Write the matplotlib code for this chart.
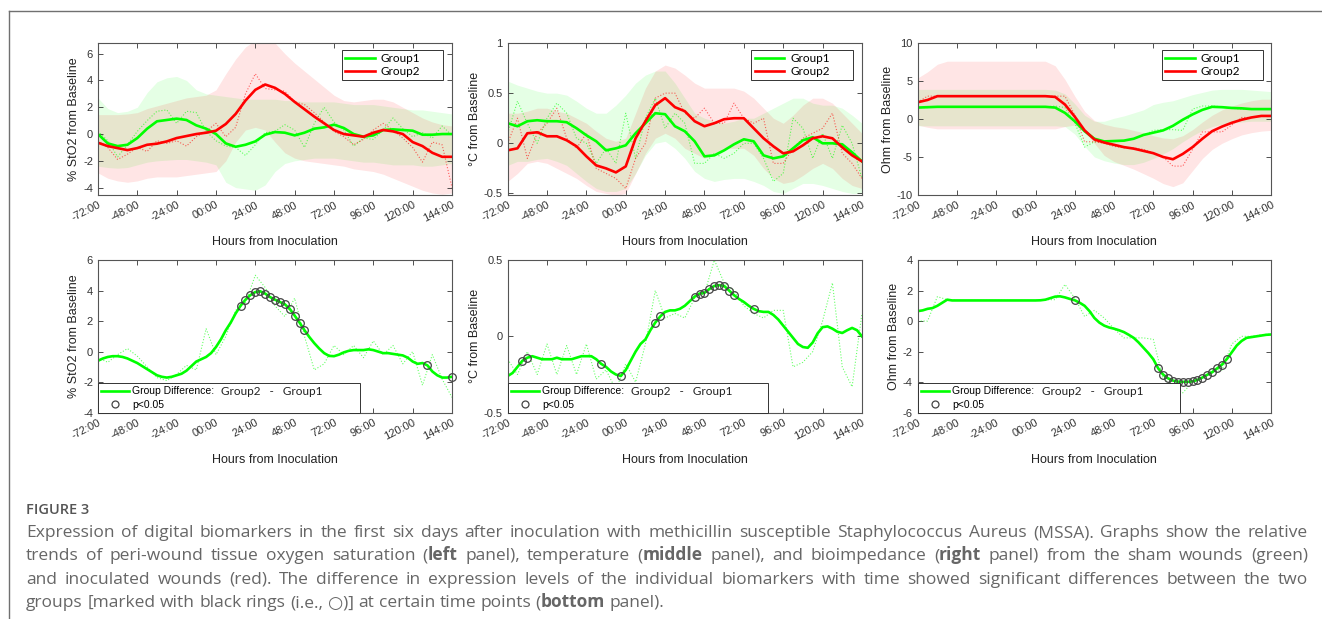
import matplotlib
matplotlib.use('Agg')
import matplotlib.pyplot as plt
import numpy as np
from matplotlib.lines import Line2D

# hours from inoculation
hours_6 = np.arange(-72, 145, 6)
hours_3 = np.arange(-72, 145, 3)
tick_hours = [-72, -48, -24, 0, 24, 48, 72, 96, 120, 144]
tick_labels = ['-72:00', '-48:00', '-24:00', '00:00', '24:00', '48:00',
               '72:00', '96:00', '120:00', '144:00']

# ---- StO2 (top left), 6 h steps ----
sto2_g1 = [0.0, -0.7, -0.9, -0.8, -0.3, 0.4, 0.95, 1.05, 1.15, 1.05, 0.65, 0.4, 0.0,
           -0.7, -0.95, -0.8, -0.55, -0.05, 0.15, 0.1, -0.1, 0.1, 0.4, 0.5, 0.7, 0.45,
           0.0, -0.2, -0.1, 0.3, 0.35, 0.3, 0.25, -0.05, -0.05, 0.0, 0.0]
sto2_g2 = [-0.65, -0.9, -1.05, -1.2, -1.05, -0.8, -0.72, -0.55, -0.3, -0.15, 0.0, 0.1, 0.25,
           0.75, 1.5, 2.5, 3.3, 3.7, 3.45, 3.0, 2.4, 1.85, 1.3, 0.8, 0.3, 0.0,
           -0.1, -0.2, 0.1, 0.3, 0.2, 0.0, -0.6, -0.9, -1.4, -1.7, -1.7]
sto2_g1_raw = [0.2, -0.5, -1.7, -0.8, 0.2, 1.0, 1.7, 1.8, 0.8, 1.7, 1.6, 0.2, -0.5,
               -0.9, -1.0, -1.6, -0.8, 0.1, 0.2, 0.7, 0.3, -1.0, 0.8, 2.0, 0.9, 0.3,
               -0.9, -0.3, -0.4, 0.3, 1.2, 0.4, -0.2, 0.1, -0.3, 0.6, -0.1]
sto2_g2_raw = [-0.5, -1.0, -1.9, -1.5, -1.0, -1.3, -0.5, -0.7, -0.5, -0.9, -0.2, 0.2, 0.8,
               -0.2, 0.5, 3.0, 4.5, 3.4, 3.3, 3.2, 2.4, 2.2, 1.6, 0.9, 0.2, -0.2,
               -0.8, -0.4, 0.3, 0.8, 0.3, -0.3, -1.0, -2.1, -0.6, -0.8, -4.0]
sto2_g1_hi = [2.7, 1.9, 1.6, 1.7, 2.0, 3.1, 3.9, 4.2, 4.3, 4.0, 3.3, 3.0, 2.9,
              2.8, 2.7, 2.6, 2.6, 2.6, 2.6, 2.5, 2.5, 2.4, 2.4, 2.4, 2.4, 2.3,
              2.2, 2.2, 2.2, 2.1, 2.0, 1.9, 1.8, 1.8, 1.7, 1.6, 1.5]
sto2_g1_lo = [-2.4, -2.5, -2.55, -2.5, -2.3, -2.1, -2.0, -1.95, -1.9, -1.9, -2.0, -2.1, -2.3,
              -3.6, -4.0, -4.1, -4.2, -3.8, -2.8, -2.2, -2.0, -1.9, -1.8, -1.8, -1.8, -1.9,
              -2.0, -2.1, -2.1, -2.2, -2.3, -2.3, -2.3, -2.4, -2.4, -2.3, -2.2]
sto2_g2_hi = [1.45, 1.45, 1.45, 1.5, 1.6, 1.9, 2.1, 2.3, 2.5, 2.7, 2.8, 2.9, 3.3,
              4.5, 5.6, 6.5, 7.0, 7.0, 6.8, 6.0, 5.3, 4.7, 4.1, 3.5, 2.9, 2.5,
              2.4, 2.5, 2.6, 2.6, 2.4, 2.0, 1.6, 1.2, 0.9, 0.7, 0.6]
sto2_g2_lo = [-2.9, -3.3, -3.5, -3.6, -3.5, -3.3, -3.2, -3.2, -3.2, -3.1, -3.0, -2.9, -2.8,
              -2.0, -0.6, 0.3, 0.5, 0.3, -0.6, -1.4, -1.8, -2.0, -2.1, -2.2, -2.3, -2.4,
              -2.6, -2.7, -2.8, -3.0, -3.3, -3.6, -3.9, -4.2, -4.4, -4.5, -4.4]

# ---- temperature (top middle), 6 h steps ----
temp_g1 = [0.2, 0.17, 0.22, 0.23, 0.22, 0.22, 0.21, 0.15, 0.08, 0.02, -0.07, -0.05, -0.02,
           0.1, 0.2, 0.3, 0.29, 0.17, 0.12, 0.02, -0.13, -0.12, -0.07, -0.01, 0.04, 0.02,
           -0.12, -0.15, -0.13, -0.05, 0.03, 0.06, 0.0, 0.0, -0.01, -0.09, -0.18]
temp_g2 = [-0.07, -0.05, 0.1, 0.11, 0.07, 0.07, 0.03, -0.03, -0.13, -0.22, -0.25, -0.29, -0.23,
           0.05, 0.22, 0.38, 0.45, 0.36, 0.32, 0.22, 0.17, 0.2, 0.24, 0.25, 0.25, 0.15,
           0.05, -0.03, -0.1, -0.08, -0.02, 0.05, 0.07, 0.05, -0.04, -0.12, -0.18]
temp_g1_raw = [0.1, 0.42, 0.2, 0.0, 0.25, 0.4, 0.3, 0.05, 0.0, -0.2, -0.05, -0.2, 0.3,
               -0.15, 0.25, 0.45, 0.15, 0.3, 0.2, -0.2, -0.2, -0.1, -0.15, -0.1, 0.0, 0.0,
               -0.15, -0.38, -0.3, 0.25, 0.15, -0.15, 0.1, -0.15, 0.18, 0.0, -0.35]
temp_g2_raw = [0.0, 0.25, -0.15, 0.1, 0.2, 0.35, 0.05, -0.05, 0.1, -0.25, -0.3, -0.35, -0.45,
               -0.15, 0.0, 0.45, 0.5, 0.5, 0.3, 0.25, 0.35, 0.2, 0.2, 0.4, 0.25, 0.2,
               0.25, -0.2, -0.2, -0.05, 0.05, 0.1, 0.15, 0.3, -0.1, -0.2, -0.35]
temp_g1_hi = [0.62, 0.58, 0.55, 0.52, 0.5, 0.5, 0.48, 0.42, 0.35, 0.3, 0.3, 0.38, 0.48,
              0.6, 0.68, 0.72, 0.72, 0.6, 0.45, 0.3, 0.25, 0.22, 0.2, 0.22, 0.25, 0.25,
              0.3, 0.35, 0.4, 0.45, 0.45, 0.4, 0.38, 0.38, 0.35, 0.28, 0.2]
temp_g1_lo = [-0.22, -0.18, -0.18, -0.16, -0.15, -0.18, -0.22, -0.3, -0.38, -0.45, -0.48, -0.48, -0.45,
              -0.3, -0.12, 0.0, 0.02, -0.05, -0.15, -0.28, -0.35, -0.38, -0.36, -0.35, -0.35, -0.38,
              -0.42, -0.48, -0.5, -0.45, -0.4, -0.4, -0.42, -0.45, -0.48, -0.5, -0.5]
temp_g2_hi = [0.3, 0.3, 0.32, 0.35, 0.35, 0.32, 0.3, 0.25, 0.2, 0.12, 0.05, 0.02, 0.05,
              0.3, 0.55, 0.72, 0.78, 0.75, 0.68, 0.6, 0.55, 0.55, 0.55, 0.55, 0.52, 0.45,
              0.35, 0.25, 0.2, 0.28, 0.38, 0.45, 0.45, 0.4, 0.3, 0.2, 0.1]
temp_g2_lo = [-0.38, -0.3, -0.2, -0.18, -0.2, -0.25, -0.3, -0.35, -0.42, -0.48, -0.5, -0.52, -0.5,
              -0.3, -0.1, 0.05, 0.1, 0.05, -0.05, -0.1, -0.15, -0.1, -0.05, -0.05, -0.05, -0.12,
              -0.25, -0.35, -0.4, -0.38, -0.32, -0.25, -0.2, -0.25, -0.35, -0.42, -0.45]

# ---- bioimpedance (top right), 6 h steps ----
ohm_g1 = [1.5, 1.55, 1.6, 1.6, 1.6, 1.6, 1.6, 1.6, 1.6, 1.6, 1.6, 1.6, 1.6,
          1.6, 1.5, 0.8, -0.3, -1.6, -2.6, -2.95, -2.9, -2.85, -2.6, -2.1, -1.8, -1.5,
          -0.9, -0.1, 0.6, 1.2, 1.6, 1.55, 1.45, 1.4, 1.3, 1.3, 1.3]
ohm_g2 = [2.2, 2.5, 3.0, 3.0, 3.0, 3.0, 3.0, 3.0, 3.0, 3.0, 3.0, 3.0, 3.0,
          3.0, 2.9, 1.9, 0.3, -1.5, -2.7, -3.1, -3.4, -3.7, -3.9, -4.2, -4.5, -5.0,
          -5.3, -4.6, -3.7, -2.6, -1.6, -1.0, -0.5, -0.1, 0.2, 0.4, 0.4]
ohm_g1_raw = [1.5, 1.5, 1.6, 1.6, 1.6, 1.6, 1.6, 1.6, 1.6, 1.6, 1.6, 1.6, 1.6,
              1.6, 1.7, 1.5, -0.5, -3.7, -3.0, -3.0, -2.9, -2.9, -2.6, -2.2, -1.5, -1.4,
              -1.4, -1.5, 1.3, 1.7, 1.7, 1.6, 1.4, 1.3, 1.3, 1.3, 1.3]
ohm_g2_raw = [2.2, 3.0, 3.0, 3.0, 3.0, 3.0, 3.0, 3.0, 3.0, 3.0, 3.0, 3.0, 3.0,
              3.0, 3.0, 3.0, 0.5, -3.0, -3.0, -3.2, -3.6, -3.8, -3.8, -4.0, -4.5, -5.0,
              -6.2, -6.2, -4.0, -1.7, -1.7, -1.7, -0.8, 0.2, 0.2, 0.4, 0.4]
ohm_g1_hi = [3.9, 3.9, 3.9, 3.9, 3.9, 3.9, 3.9, 3.9, 3.9, 3.9, 3.9, 3.9, 3.9,
             3.9, 3.8, 3.3, 2.0, 0.5, -0.3, -0.3, 0.1, 0.4, 0.8, 1.2, 1.9, 2.2,
             2.4, 2.8, 3.2, 3.5, 3.8, 3.9, 3.9, 3.9, 3.8, 3.7, 3.6]
ohm_g1_lo = [-0.9, -0.9, -0.9, -0.9, -0.9, -0.9, -0.9, -0.9, -0.9, -0.9, -0.9, -0.9, -0.9,
             -0.9, -0.9, -1.0, -2.0, -3.6, -5.0, -5.5, -5.8, -6.0, -6.0, -5.7, -5.2, -4.6,
             -3.9, -3.0, -2.2, -1.5, -1.0, -0.7, -0.5, -0.4, -0.3, -0.3, -0.3]
ohm_g2_hi = [5.4, 6.2, 7.2, 7.6, 7.6, 7.6, 7.6, 7.6, 7.6, 7.6, 7.6, 7.6, 7.6,
             7.6, 7.0, 5.2, 3.0, 1.0, -0.2, -0.7, -1.0, -1.2, -1.5, -1.8, -2.2, -2.5,
             -2.6, -2.2, -1.4, -0.4, 0.5, 1.2, 1.7, 2.1, 2.4, 2.6, 2.6]
ohm_g2_lo = [-0.8, -1.1, -1.3, -1.3, -1.3, -1.3, -1.3, -1.3, -1.3, -1.3, -1.3, -1.3, -1.3,
             -1.3, -1.3, -1.0, -0.8, -1.8, -3.2, -4.8, -5.6, -6.1, -6.6, -7.2, -7.8, -8.5,
             -8.9, -8.4, -6.8, -5.2, -4.0, -3.2, -2.6, -2.1, -1.8, -1.6, -1.5]

# ---- group differences (bottom row), 3 h steps ----
sto2_diff = [-0.6, -0.45, -0.35, -0.3, -0.3, -0.35, -0.45, -0.6, -0.75, -0.95,
             -1.15, -1.35, -1.55, -1.65, -1.7, -1.65, -1.55, -1.45, -1.25, -0.95,
             -0.65, -0.5, -0.35, -0.1, 0.3, 0.8, 1.4, 1.9, 2.5, 3.0,
             3.4, 3.7, 3.9, 3.95, 3.8, 3.57, 3.4, 3.25, 3.1, 2.8,
             2.36, 1.9, 1.4, 0.95, 0.55, 0.2, -0.1, -0.28, -0.3, -0.2,
             -0.05, 0.05, 0.1, 0.1, 0.1, 0.15, 0.1, 0.0, -0.1, -0.1,
             -0.15, -0.2, -0.25, -0.4, -0.65, -0.8, -0.75, -0.9, -1.3, -1.55,
             -1.7, -1.7, -1.65]
sto2_diff_raw = [-0.4, -0.7, -0.2, 0.2, -0.3, -1.0, -1.7, -1.9, -1.5, -0.9, -1.2, 1.5, -0.2,
                 1.0, 2.7, 3.2, 5.0, 4.2, 3.0, 2.3, 3.5, 1.0, -1.2, -0.8, 0.4, -0.2,
                 0.4, -0.4, 0.7, -0.2, 0.4, -0.8, 0.0, -2.2, -0.2, -1.8, -3.0]
sto2_sig = [15, 18, 21, 24, 27, 30, 33, 36, 39, 42, 45, 48, 51, 54, 129, 144]

temp_diff = [-0.26, -0.24, -0.2, -0.16, -0.14, -0.13, -0.14, -0.15, -0.15, -0.15,
             -0.14, -0.15, -0.15, -0.15, -0.14, -0.13, -0.13, -0.13, -0.15, -0.18,
             -0.2, -0.23, -0.25, -0.26, -0.22, -0.16, -0.1, -0.05, -0.02, 0.04,
             0.09, 0.13, 0.16, 0.17, 0.17, 0.18, 0.2, 0.23, 0.26, 0.28,
             0.285, 0.31, 0.33, 0.335, 0.33, 0.3, 0.27, 0.245, 0.225, 0.2,
             0.18, 0.165, 0.16, 0.16, 0.14, 0.11, 0.07, 0.03, -0.01, -0.05,
             -0.07, -0.075, -0.04, 0.02, 0.06, 0.065, 0.05, 0.03, 0.022, 0.04,
             0.055, 0.04, 0.0]
temp_diff_raw = [-0.15, -0.25, -0.1, -0.25, -0.05, -0.25, -0.06, -0.25, -0.05, -0.28, -0.22, -0.35, -0.18,
                 -0.3, -0.05, 0.3, 0.12, 0.15, 0.12, 0.25, 0.28, 0.5, 0.35, 0.3, 0.2, 0.15,
                 0.12, 0.17, 0.17, -0.2, -0.17, -0.1, 0.1, 0.35, -0.2, -0.33, 0.15]
temp_sig = [-63, -60, -15, -3, 18, 21, 42, 45, 48, 51, 54, 57, 60, 63, 66, 78]

ohm_diff = [0.65, 0.7, 0.8, 0.85, 1.0, 1.2, 1.4, 1.35, 1.35, 1.35,
            1.35, 1.35, 1.35, 1.35, 1.35, 1.35, 1.35, 1.35, 1.35, 1.35,
            1.35, 1.35, 1.35, 1.35, 1.35, 1.36, 1.4, 1.5, 1.6, 1.62,
            1.55, 1.45, 1.36, 1.2, 1.0, 0.65, 0.2, -0.1, -0.3, -0.42,
            -0.5, -0.6, -0.72, -0.9, -1.1, -1.4, -1.75, -2.1, -2.5, -3.1,
            -3.5, -3.75, -3.9, -3.97, -3.98, -3.98, -3.95, -3.85, -3.7, -3.52,
            -3.35, -3.1, -2.85, -2.48, -2.04, -1.6, -1.3, -1.1, -1.05, -1.0,
            -0.95, -0.9, -0.88]
ohm_diff_raw = [0.0, 0.0, 1.6, 1.4, 1.35, 1.35, 1.35, 1.35, 1.35, 1.35, 1.35, 1.35, 1.35,
                1.4, 1.4, 2.4, 1.5, 0.3, 0.7, 0.2, -0.5, -1.1, -1.1, -1.1, -1.2, -3.8,
                -4.2, -4.7, -4.0, -3.7, -3.2, -3.2, -1.5, -1.0, -1.0, -0.9, -0.85]
ohm_sig = [24, 75, 78, 81, 84, 87, 90, 93, 96, 99, 102, 105, 108, 111, 114, 117]

caption_title = 'FIGURE 3'
caption_lines = [
    'Expression of digital biomarkers in the first six days after inoculation with methicillin '
    'susceptible Staphylococcus Aureus (MSSA). Graphs show the relative',
    'trends of peri-wound tissue oxygen saturation (*left* panel), temperature (*middle* panel), '
    'and bioimpedance (*right* panel) from the sham wounds (green)',
    'and inoculated wounds (red). The difference in expression levels of the individual '
    'biomarkers with time showed significant differences between the two',
    'groups [marked with black rings (i.e., \u25cb)] at certain time points (*bottom* panel).',
]

GREEN = '#00ff00'
RED = '#ff0000'
INK = '#333333'
CAP_GRAY = '#666666'
CAP_FONT = ['Open Sans', 'DejaVu Sans']
LEG_FONT = ['Lato', 'DejaVu Sans']

plt.rcParams['font.family'] = ['Liberation Sans', 'DejaVu Sans']
plt.rcParams['axes.unicode_minus'] = False


def style_axes(ax, ylim, yticks, ylabel):
    ax.set_xlim(-72, 144)
    ax.set_ylim(*ylim)
    ax.set_xticks(tick_hours)
    ax.set_xticklabels(tick_labels, rotation=27, ha='right', va='top',
                       rotation_mode='anchor')
    ax.set_yticks(yticks)
    ax.set_yticklabels(['%g' % v for v in yticks])
    ax.tick_params(direction='in', top=True, right=True, length=3.5, width=0.6,
                   labelsize=8, colors=INK, pad=3.5)
    for s in ax.spines.values():
        s.set_color('#555555')
        s.set_linewidth(0.8)
    ax.set_xlabel('Hours from Inoculation', fontsize=9, color='#222222', labelpad=8.5)
    ax.set_ylabel(ylabel, fontsize=9, color='#222222', labelpad=2)


def plot_groups(ax, g1, g2, g1_raw, g2_raw, g1_lo, g1_hi, g2_lo, g2_hi, leg_x):
    ax.fill_between(hours_6, g1_lo, g1_hi, color=GREEN, alpha=0.1, lw=0)
    ax.fill_between(hours_6, g2_lo, g2_hi, color=RED, alpha=0.1, lw=0)
    ax.plot(hours_6, g1_raw, ':', color=GREEN, lw=0.8, alpha=0.6)
    ax.plot(hours_6, g2_raw, ':', color=RED, lw=0.8, alpha=0.6)
    ax.plot(hours_6, g1, color=GREEN, lw=1.9, label='Group1')
    ax.plot(hours_6, g2, color=RED, lw=1.9, label='Group2')
    leg = ax.legend(loc='upper left', bbox_to_anchor=(leg_x, 0.954, 0.287, 0.0),
                    mode='expand', borderaxespad=0, fancybox=False, framealpha=1,
                    edgecolor='#333333', handlelength=2.5, handletextpad=0.5,
                    labelspacing=0.12, borderpad=0.3,
                    prop={'family': LEG_FONT, 'size': 8.5})
    leg.get_frame().set_linewidth(0.7)


def plot_diff(ax, diff, diff_raw, sig, box_w, txt_x):
    ax.plot(hours_6, diff_raw, ':', color=GREEN, lw=0.8, alpha=0.6)
    ax.plot(hours_3, diff, color=GREEN, lw=1.9)
    idx = [list(hours_3).index(h) for h in sig]
    ax.plot(sig, [diff[i] for i in idx], 'o', mfc='none', mec='#444444', mew=0.9,
            ms=5.5, clip_on=False, zorder=4)
    handles = [Line2D([], [], color=GREEN, lw=1.9),
               Line2D([], [], ls='none', marker='o', mfc='none', mec='#444444', mew=0.9, ms=5)]
    leg = ax.legend(handles, ['Group Difference:', 'p<0.05'], loc='lower left',
                    bbox_to_anchor=(0, 0, box_w, 0.2), mode='expand', borderaxespad=0,
                    fancybox=False, framealpha=1, edgecolor='#333333', handlelength=2.7,
                    handletextpad=0.3, labelspacing=0.3, borderpad=0.3, fontsize=7.5)
    leg.get_frame().set_linewidth(0.7)
    ax.text(txt_x, 0.138, 'Group2   -   Group1', transform=ax.transAxes, fontsize=8.5,
            family=LEG_FONT, color='#222222', va='center', zorder=10)


def draw_caption(fig, lines, left, right, baselines, size):
    """justified caption; words in *stars* are bold"""
    renderer = fig.canvas.get_renderer()
    W, H = fig.bbox.width, fig.bbox.height

    def make(s, yb, bold):
        t = fig.text(0, 1 - yb / H, s, fontsize=size, family=CAP_FONT, color=CAP_GRAY,
                     fontweight='bold' if bold else 'normal', va='baseline', ha='left')
        return t, t.get_window_extent(renderer).width

    ta, wa = make('a a', -50, False)
    tb, wb = make('aa', -50, False)
    space = wa - wb
    ta.remove()
    tb.remove()

    for k, (line, yb) in enumerate(zip(lines, baselines)):
        words = []
        for w in line.split(' '):
            runs = [make(part, yb, j % 2 == 1) for j, part in enumerate(w.split('*')) if part]
            words.append(runs)
        widths = [sum(wd for _, wd in runs) for runs in words]
        if k < len(lines) - 1:
            gap = (right - left - sum(widths)) / (len(words) - 1)
        else:
            gap = space
        x = left
        for runs, wsum in zip(words, widths):
            for t, wd in runs:
                t.set_x(x / W)
                x += wd
            x += gap


fig = plt.figure(figsize=(13.22, 6.19), dpi=100)

col_left = [0.0741, 0.3840, 0.6942]
col_w = [0.2678, 0.2680, 0.2673]
ax_tl = fig.add_axes([col_left[0], 0.685, col_w[0], 0.2456])
ax_tm = fig.add_axes([col_left[1], 0.685, col_w[1], 0.2456])
ax_tr = fig.add_axes([col_left[2], 0.685, col_w[2], 0.2456])
ax_bl = fig.add_axes([col_left[0], 0.3333, col_w[0], 0.2467])
ax_bm = fig.add_axes([col_left[1], 0.3333, col_w[1], 0.2467])
ax_br = fig.add_axes([col_left[2], 0.3333, col_w[2], 0.2467])

plot_groups(ax_tl, sto2_g1, sto2_g2, sto2_g1_raw, sto2_g2_raw,
            sto2_g1_lo, sto2_g1_hi, sto2_g2_lo, sto2_g2_hi, 0.688)
style_axes(ax_tl, (-4.55, 6.8), [-4, -2, 0, 2, 4, 6], '% StO2 from Baseline')

plot_groups(ax_tm, temp_g1, temp_g2, temp_g1_raw, temp_g2_raw,
            temp_g1_lo, temp_g1_hi, temp_g2_lo, temp_g2_hi, 0.688)
style_axes(ax_tm, (-0.515, 1.0), [-0.5, 0, 0.5, 1], '\u00b0C from Baseline')

plot_groups(ax_tr, ohm_g1, ohm_g2, ohm_g1_raw, ohm_g2_raw,
            ohm_g1_lo, ohm_g1_hi, ohm_g2_lo, ohm_g2_hi, 0.69)
style_axes(ax_tr, (-10, 10), [-10, -5, 0, 5, 10], 'Ohm from Baseline')

plot_diff(ax_bl, sto2_diff, sto2_diff_raw, sto2_sig, 0.74, 0.348)
style_axes(ax_bl, (-4, 6), [-4, -2, 0, 2, 4, 6], '% StO2 from Baseline')

plot_diff(ax_bm, temp_diff, temp_diff_raw, temp_sig, 0.734, 0.348)
style_axes(ax_bm, (-0.5, 0.5), [-0.5, 0, 0.5], '\u00b0C from Baseline')

plot_diff(ax_br, ohm_diff, ohm_diff_raw, ohm_sig, 0.742, 0.352)
style_axes(ax_br, (-6, 4), [-6, -4, -2, 0, 2, 4], 'Ohm from Baseline')

# page frame (top and left rules)
W, H = 1322.0, 619.0
fig.add_artist(Line2D([9 / W, 1.0], [1 - 11 / H, 1 - 11 / H], color='#707070', lw=1.0))
fig.add_artist(Line2D([9 / W, 9 / W], [0.0, 1 - 11 / H], color='#707070', lw=1.0))

fig.text(26 / W, 1 - 514 / H, caption_title, fontsize=10.5, family=CAP_FONT,
         fontweight='semibold', color='#555555', va='baseline')
draw_caption(fig, caption_lines, 26, 1308, [537, 560.3, 583.7, 607], 12.5)

fig.savefig('out.png', dpi=100)
